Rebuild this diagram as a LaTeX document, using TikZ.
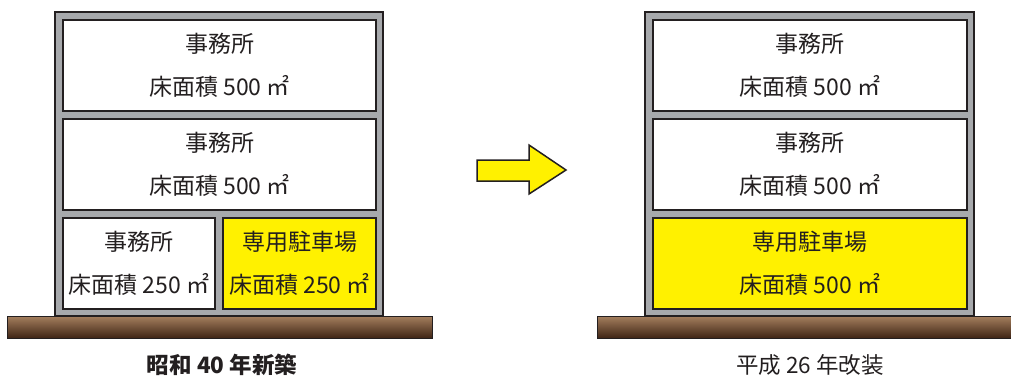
\documentclass[tikz,border=0pt]{standalone}
\usepackage{fontspec}
\newfontfamily\jp{Noto Sans CJK JP}
\definecolor{ink}{HTML}{231F20}
\definecolor{wall}{HTML}{A7A9AC}
\definecolor{park}{HTML}{FFF100}
\definecolor{soiltop}{HTML}{A57F5E}
\definecolor{soilbot}{HTML}{3F2515}
\tikzset{
  room/.style={draw=ink, line width=2pt, fill=white, inner sep=0pt, outer sep=0pt, align=center, text=ink,
    font=\jp\fontsize{23}{43}\selectfont},
  parking/.style={room, fill=park},
  frame/.style={draw=ink, line width=1.5pt, fill=wall},
  ground/.style={draw=ink, line width=0.8pt, top color=soiltop, bottom color=soilbot},
  caption/.style={text=ink, font=\jp\fontsize{22.5}{24}\selectfont, inner sep=0pt},
  bigarrow/.style={draw=ink, line width=1.5pt, fill=park, line join=miter}
}
\begin{document}
\begin{tikzpicture}[x=1pt,y=-1pt]
\useasboundingbox (0,0) rectangle (1011,376);
% ---- left building
\draw[ground] (7,316) rectangle (432,338);
\draw[frame] (55,12) rectangle (383,316);
\node[room, minimum width=313pt, minimum height=91pt] (l1) at (219.5,65.5) {事務所\\床面積 500 ㎡};
\node[room, minimum width=313pt, minimum height=91pt] (l2) at (219.5,164.5) {事務所\\床面積 500 ㎡};
\node[room, minimum width=152pt, minimum height=91pt] (l3a) at (139,263.5) {事務所\\床面積 250 ㎡};
\node[parking, minimum width=153pt, minimum height=91pt] (l3b) at (299.5,263.5) {専用駐車場\\床面積 250 ㎡};
\node[caption, font=\jp\bfseries\fontsize{22.5}{24}\selectfont] (lcap) at (222,365) {昭和 40 年新築};
% ---- arrow
\draw[bigarrow] (477,160) -- (529,160) -- (529,145) -- (566,170) -- (529,194) -- (529,181) -- (477,181) -- cycle;
% ---- right building
\draw[ground] (597,316) rectangle (1012,338);
\draw[frame] (645,12) rectangle (974,316);
\node[room, minimum width=314pt, minimum height=91pt] (r1) at (810,65.5) {事務所\\床面積 500 ㎡};
\node[room, minimum width=314pt, minimum height=91pt] (r2) at (810,164.5) {事務所\\床面積 500 ㎡};
\node[parking, minimum width=314pt, minimum height=91pt] (r3) at (810,263.5) {専用駐車場\\床面積 500 ㎡};
\node[caption] (rcap) at (810,365) {平成 26 年改装};
\end{tikzpicture}
\end{document}
